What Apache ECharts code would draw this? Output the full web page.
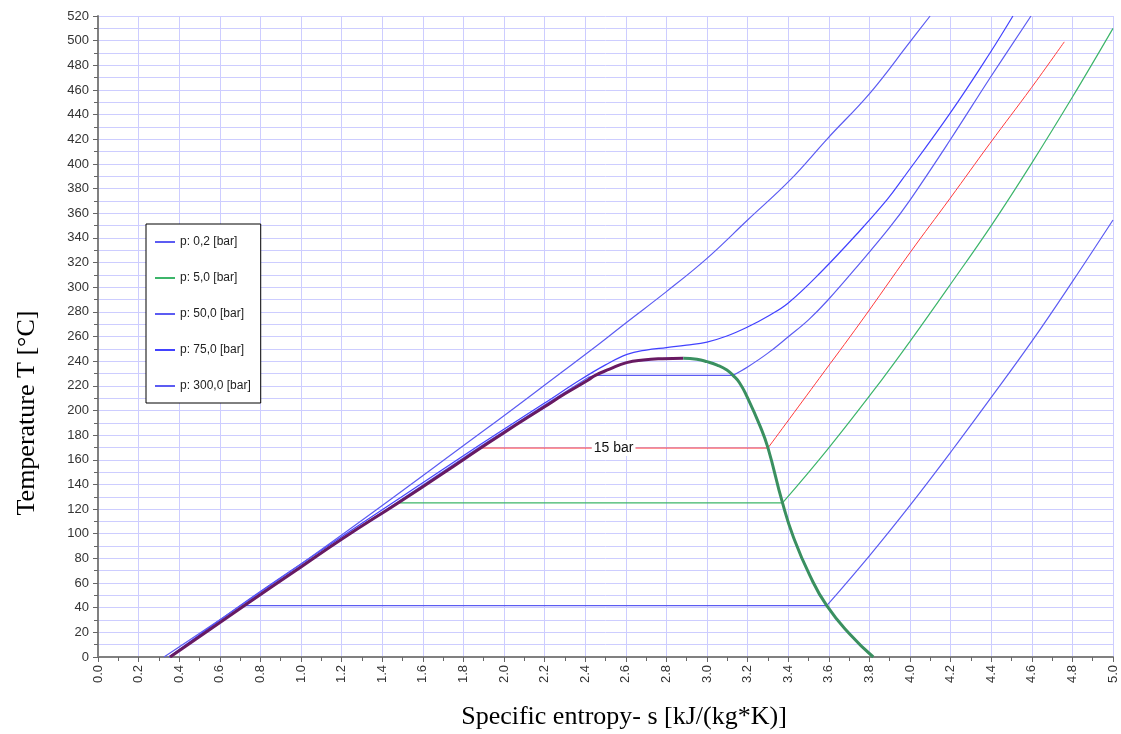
<!DOCTYPE html>
<html>
<head>
<meta charset="utf-8">
<title>T-s diagram</title>
<script src="https://cdn.jsdelivr.net/npm/echarts@6/dist/echarts.min.js"></script>
<style>
  html, body { margin: 0; padding: 0; background: #fff; }
  #chart { width: 1121px; height: 734px; }
</style>
</head>
<body>
<div id="chart"></div>
<script>
// Saturation dome: [entropy kJ/(kg*K), temperature °C]
const satLiquid = [[0.355,0],[0.72,41.6],[1.0,73],[1.2,95.5],[1.478,125],[1.7,149],[1.885,169.5],
  [2.0,182],[2.2,203],[2.3,213.5],[2.415,224.7],[2.45,228.5],[2.52,233.5],[2.604,238.8],
  [2.686,241],[2.78,242],[2.883,242.3]];
const satVapor = [[2.883,242.3],[2.95,241.5],[3.0,239.6],[3.05,236.8],[3.098,232.8],[3.128,228.5],
  [3.16,222.5],[3.197,211.2],[3.261,187.5],[3.30,169.8],[3.372,125],[3.425,97.6],[3.507,66],
  [3.59,41.6],[3.704,18.5],[3.819,0]];

// Isobars: compressed liquid + evaporation segment, then superheated vapour
const p02Liquid = [[0.355,0],[0.72,41.6],[3.59,41.6]];
const p02Vapor = [[3.59,41.6],[3.803,82.7],[4.0,123],[4.202,166.5],[4.402,211],[4.599,255.8],[4.8,304.5],[5.0,354.5]];

const p5Liquid = [[0.355,0],[0.72,41.6],[1.0,73],[1.2,95.5],[1.478,125],[3.372,125]];
const p5Vapor = [[3.372,125],[3.598,169.3],[3.86,224.7],[4.0,256],[4.197,301.8],[4.402,350.4],[4.599,400.5],[4.801,454.5],[5.0,510]];

const p15Liquid = [[0.355,0],[0.72,41.6],[1.0,73],[1.2,95.5],[1.478,125],[1.7,149],[1.885,169.5],[3.30,169.5]];
const p15Vapor = [[3.30,169.5],[3.553,226],[3.754,271],[4.0,328],[4.197,372],[4.394,416.7],[4.599,462],[4.76,499]];
const p15LabelAt = [2.54, 169.5];

const p50Liquid = [[0.35,0],[0.72,42.3],[1.0,74],[1.478,126],[1.885,171],[2.2,204.5],[2.415,226.8],[2.45,228.5],[3.128,228.5]];
const p50Vapor = [[3.128,228.5],[3.2,235.3],[3.3,246.5],[3.399,259.6],[3.5,273.5],[3.596,289.6],[3.754,319.6],
  [3.9,348.5],[4.0,370.7],[4.2,420],[4.394,469.7],[4.596,520]];

const p75 = [[0.35,0],[0.72,44],[1.0,75.5],[1.478,128],[1.885,172.5],[2.2,206],[2.374,224.7],[2.5,237],
  [2.606,245.5],[2.7,249],[2.8,251],[2.9,253],[3.0,255.5],[3.098,260.4],[3.2,267.7],[3.3,276.5],
  [3.399,287],[3.557,311.5],[3.754,346],[3.887,371],[3.96,387],[4.197,441],[4.394,490],[4.507,520]];

const p300 = [[0.325,0],[1.028,78.7],[1.906,184.3],[2.276,230],[2.473,254.5],[2.6,271],[2.8,296.4],
  [3.0,323.4],[3.2,354.5],[3.41,387],[3.596,421],[3.803,457.5],[4.0,499],[4.099,520]];

const legendNames = ['p: 0,2 [bar]', 'p: 5,0 [bar]', 'p: 50,0 [bar]', 'p: 75,0 [bar]', 'p: 300,0 [bar]'];

const colLightBlue = '#5c5cf2';
const colBlue = '#4242ff';
const colGreen = '#3db56a';
const colRed = '#ff3b3b';
const colLiquid = '#681a62';
const colVapor = '#3a9060';
const gridColor = '#cdcdff';

function line(name, data, color, width, smooth, z) {
  return {
    type: 'line', name: name, data: data, symbol: 'none', showSymbol: false,
    smooth: smooth || false,
    lineStyle: { color: color, width: width }, itemStyle: { color: color },
    z: z || 2, silent: true
  };
}

const series = [
  line(legendNames[0], p02Liquid, colLightBlue, 1.2, false),
  line(legendNames[0], p02Vapor, colLightBlue, 1.2, 0.4),
  line(legendNames[1], p5Liquid, colGreen, 1.2, false),
  line(legendNames[1], p5Vapor, colGreen, 1.2, 0.4),
  line(legendNames[2], p50Liquid, colLightBlue, 1.2, false),
  line(legendNames[2], p50Vapor, colLightBlue, 1.2, 0.4),
  line(legendNames[3], p75, colBlue, 1.2, 0.4),
  line(legendNames[4], p300, colLightBlue, 1.2, 0.4),
  line('15 bar', p15Liquid, colRed, 1, false),
  Object.assign(line('15 bar', p15Vapor, colRed, 1, 0.4), {
    markPoint: {
      symbol: 'rect', symbolSize: 1, silent: true,
      itemStyle: { color: 'rgba(0,0,0,0)' },
      data: [{ coord: p15LabelAt }],
      label: {
        show: true, position: 'inside', formatter: '15 bar',
        fontFamily: 'Liberation Sans, Arial, sans-serif', fontSize: 14, color: '#111',
        backgroundColor: '#fff', padding: [1, 2]
      }
    }
  }),
  line('sat-liquid', satLiquid, colLiquid, 3, 0.5, 4),
  line('sat-vapor', satVapor, colVapor, 3, 0.5, 4)
];

const chart = echarts.init(document.getElementById('chart'), null, { renderer: 'canvas' });
chart.setOption({
  animation: false,
  backgroundColor: '#fff',
  textStyle: { fontFamily: 'Liberation Sans, Arial, sans-serif' },
  grid: { left: 98, right: 8, top: 16, bottom: 77, containLabel: false },
  legend: {
    data: legendNames, orient: 'vertical', left: 146, top: 224,
    itemWidth: 20, itemHeight: 14, itemGap: 24,
    borderColor: '#000', borderWidth: 1, backgroundColor: '#fff',
    padding: [12, 10, 11, 8], selectedMode: false,
    itemStyle: { opacity: 0 },
    lineStyle: { width: 2 },
    textStyle: { fontSize: 12, color: '#222', fontFamily: 'Liberation Sans, Arial, sans-serif' }
  },
  xAxis: {
    type: 'value', min: 0, max: 5, interval: 0.2,
    axisLine: { show: true, lineStyle: { color: '#808080', width: 2 } },
    axisTick: { show: true, length: 5, lineStyle: { color: '#666' } },
    minorTick: { show: true, splitNumber: 2, length: 4, lineStyle: { color: '#666' } },
    axisLabel: { rotate: 90, margin: 8, fontSize: 13, color: '#333', formatter: v => v.toFixed(1) },
    splitLine: { show: true, lineStyle: { color: gridColor, width: 1 } }
  },
  yAxis: {
    type: 'value', min: 0, max: 520, interval: 20,
    axisLine: { show: true, lineStyle: { color: '#808080', width: 2 } },
    axisTick: { show: true, length: 5, lineStyle: { color: '#666' } },
    minorTick: { show: true, splitNumber: 2, length: 4, lineStyle: { color: '#666' } },
    axisLabel: { margin: 9, fontSize: 13, color: '#333' },
    splitLine: { show: true, lineStyle: { color: gridColor, width: 1 } },
    minorSplitLine: { show: true, lineStyle: { color: gridColor, width: 1 } }
  },
  graphic: [
    {
      type: 'text', x: 27, y: 413, rotation: Math.PI / 2,
      style: { text: 'Temperature T [°C]', font: '26px "Liberation Serif", "Times New Roman", serif',
        fill: '#000', textAlign: 'center', textVerticalAlign: 'middle' }
    },
    {
      type: 'text', x: 624, y: 717,
      style: { text: 'Specific entropy- s [kJ/(kg*K)]', font: '26px "Liberation Serif", "Times New Roman", serif',
        fill: '#000', textAlign: 'center', textVerticalAlign: 'middle' }
    }
  ],
  series: series
});
</script>
</body>
</html>
